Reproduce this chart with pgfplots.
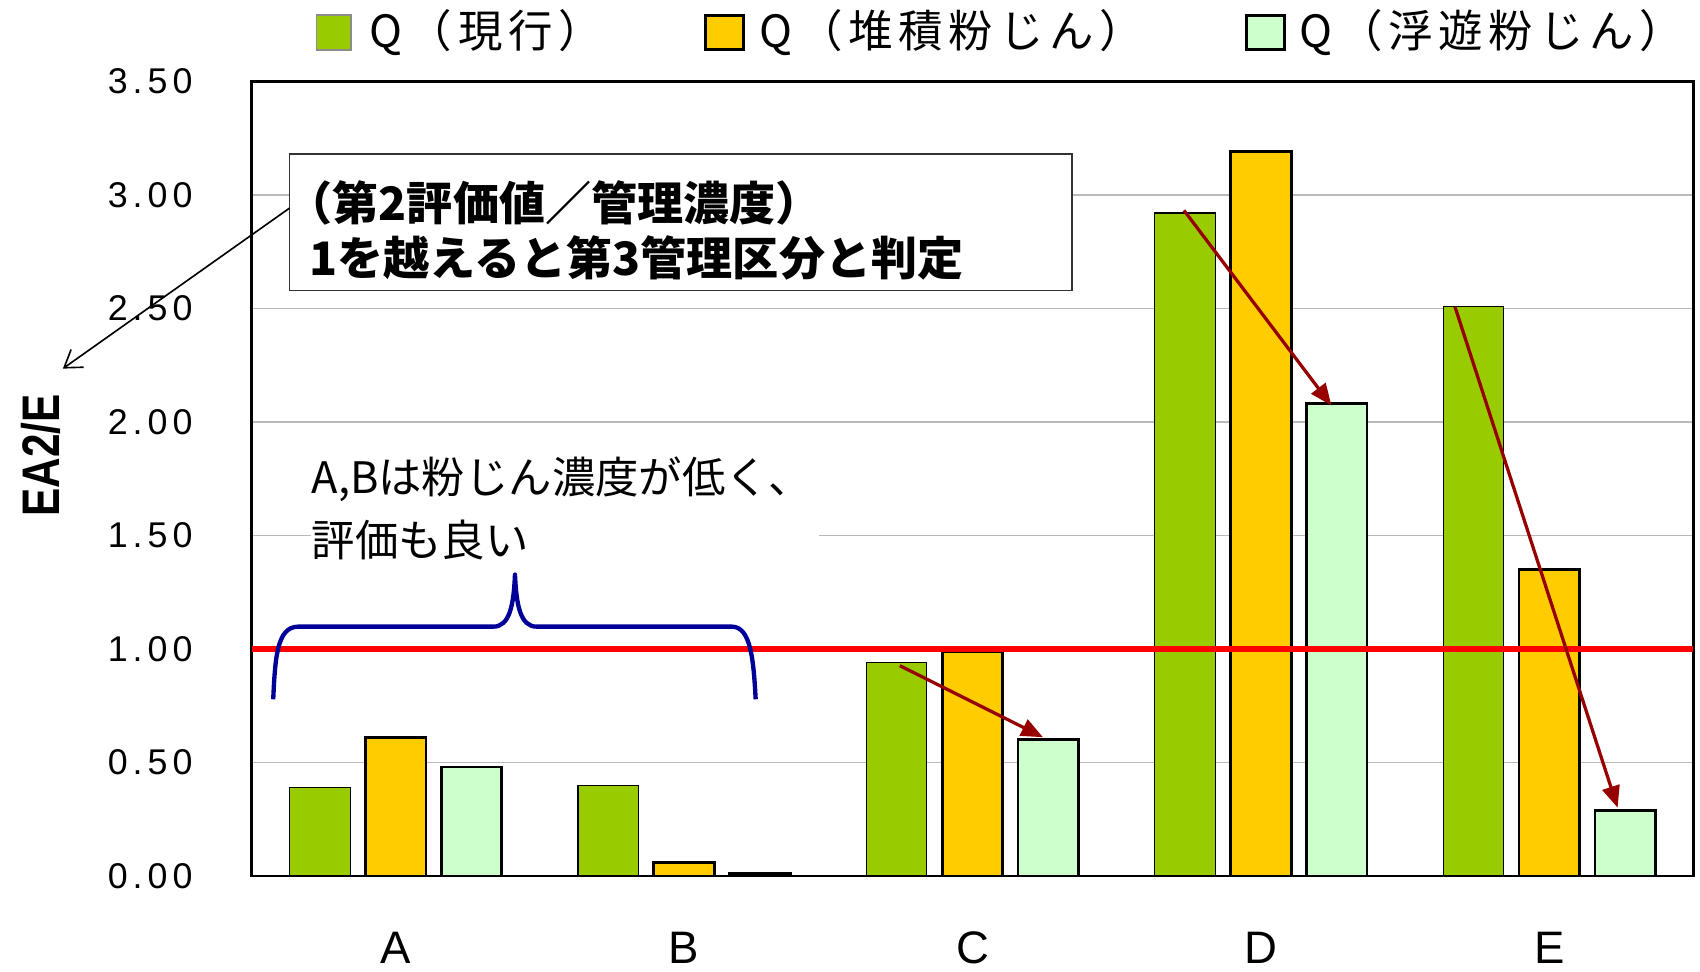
\documentclass[border=0pt]{standalone}
\usepackage{fontspec}
\setmainfont{Liberation Sans}
\newfontfamily\cjk{Noto Sans CJK JP}
\newfontfamily\cjkleg[LetterSpace=13]{Noto Sans CJK JP}
\newfontfamily\tickfont[LetterSpace=14]{Liberation Sans}
\usepackage{graphicx}
\usepackage{pgfplots}
\pgfplotsset{compat=1.18}
\usetikzlibrary{arrows.meta}
\definecolor{cgreen}{RGB}{153,204,0}
\definecolor{corange}{RGB}{255,204,0}
\definecolor{clight}{RGB}{204,255,204}
\definecolor{darr}{RGB}{150,0,0}
\definecolor{bbrace}{RGB}{0,0,153}
\begin{document}
\begin{tikzpicture}[x=1pt,y=1pt]
\useasboundingbox (0,0) rectangle (627.2,358.4);
\begin{axis}[at={(92.8pt,35.2pt)}, anchor=south west, scale only axis,
  width=532pt, height=293.2pt,
  xmin=-0.5, xmax=4.5, ymin=0, ymax=3.5,
  ybar, bar width=0.21,
  xtick={0,1,2,3,4}, xticklabels={A,B,C,D,E},
  ytick={0,0.5,1,1.5,2,2.5,3,3.5},
  ymajorgrids, major grid style={gray!55, line width=0.5pt},
  major tick length=0pt,
  axis line style={black, line width=1pt},
  /pgf/number format/fixed, /pgf/number format/fixed zerofill,
  /pgf/number format/precision=2, /pgf/number format/assume math mode=true,
  yticklabel style={font=\tickfont\fontsize{13.2pt}{15pt}\selectfont, anchor=east, inner sep=0pt, xshift=-21.6pt},
  xticklabel style={font=\fontsize{16.8pt}{18pt}\selectfont, anchor=center, inner sep=0pt, yshift=-26.6pt},
  ylabel={\scalebox{0.8}[1]{\bfseries EA2/E}},
  ylabel style={at={(axis description cs:-0.1459,0.529)}, anchor=center, font=\fontsize{19.5pt}{22pt}\selectfont},
]
\addplot[fill=cgreen, draw=black, line width=0.4pt, bar shift=-0.263]
  coordinates {(0,0.39) (1,0.40) (2,0.94) (3,2.92) (4,2.51)};
\addplot[fill=corange, draw=black, line width=1pt, bar shift=0]
  coordinates {(0,0.61) (1,0.06) (2,0.99) (3,3.19) (4,1.35)};
\addplot[fill=clight, draw=black, line width=1pt, bar shift=0.263]
  coordinates {(0,0.48) (1,0.01) (2,0.60) (3,2.08) (4,0.29)};
\addplot[red, line width=2pt, sharp plot] coordinates {(-0.5,1) (4.5,1)};
\end{axis}
% legend
\draw[fill=cgreen, draw=black!45, line width=0.6pt] (116.8,340.0) rectangle (129.6,352.8);
\node[anchor=west, inner sep=0pt, font=\cjkleg\fontsize{16.4pt}{18pt}\selectfont] at (136,346.4) {Q（現行）};
\draw[fill=corange, draw=black, line width=1.2pt] (260.4,340.0) rectangle (274.4,352.8);
\node[anchor=west, inner sep=0pt, font=\cjkleg\fontsize{16.4pt}{18pt}\selectfont] at (280,346.4) {Q（堆積粉じん）};
\draw[fill=clight, draw=black, line width=1.2pt] (460,340.0) rectangle (474,352.8);
\node[anchor=west, inner sep=0pt, font=\cjkleg\fontsize{16.4pt}{18pt}\selectfont] at (479.2,346.4) {Q（浮遊粉じん）};
% annotation box
\draw[fill=white, draw=black!80, line width=0.6pt] (106.8,251.2) rectangle (395.6,301.6);
\node[anchor=base west, inner sep=0pt, font=\cjk\bfseries\fontsize{17pt}{20pt}\selectfont] at (105.6,277.2) {（第2評価値／管理濃度）};
\node[anchor=base west, inner sep=0pt, font=\cjk\bfseries\fontsize{17pt}{20pt}\selectfont] at (114,256.8) {1を越えると第3管理区分と判定};
\draw[black, line width=0.6pt, -{Straight Barb[length=6pt,width=8pt]}] (106.8,281.6) -- (23.2,222.4);
% A,B note
\fill[white] (114.8,148.8) rectangle (302,194.4);
\node[anchor=base west, inner sep=0pt, font=\cjk\fontsize{16pt}{18pt}\selectfont] at (114.8,176.4) {A,Bは粉じん濃度が低く、};
\node[anchor=base west, inner sep=0pt, font=\cjk\fontsize{16pt}{18pt}\selectfont] at (114.8,153.2) {評価も良い};
% brace
\draw[bbrace, line width=1.6pt, line join=round]
  (100.8,100.4) .. controls (101.5,115) and (102,127.2) .. (110,127.2)
  -- (182,127.2) .. controls (188,127.2) and (189.5,135) .. (190,146.4)
  .. controls (190.5,135) and (192,127.2) .. (198,127.2)
  -- (270,127.2) .. controls (277,127.2) and (278,115) .. (278.8,100.4);
% dark red arrows
\draw[darr, line width=1.2pt, -{Triangle[length=8pt,width=6.5pt]}] (332,112.8) -- (384.8,86.4);
\draw[darr, line width=1.2pt, -{Triangle[length=8pt,width=6.5pt]}] (436.8,280.8) -- (491.2,208.8);
\draw[darr, line width=1.2pt, -{Triangle[length=8pt,width=6.5pt]}] (536.8,245.2) -- (596.8,60.4);
\end{tikzpicture}
\end{document}
